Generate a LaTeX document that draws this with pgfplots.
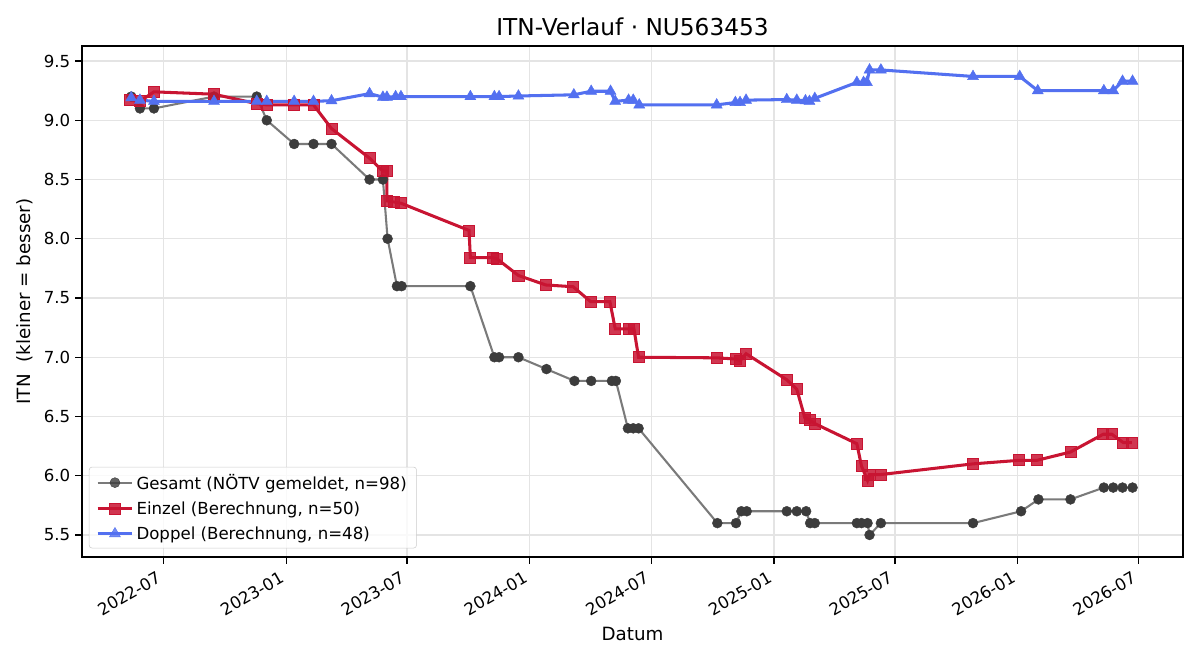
\documentclass[border=0pt]{standalone}
\usepackage{fontspec}
\setmainfont{DejaVu Sans}
\usepackage{pgfplots}
\pgfplotsset{compat=1.18}
\definecolor{gline}{RGB}{122,122,122}
\definecolor{gmark}{RGB}{60,60,60}
\definecolor{rline}{RGB}{200,20,50}
\definecolor{bline}{RGB}{83,112,240}
\definecolor{gridc}{RGB}{228,228,228}
\begin{document}
\begin{tikzpicture}
\useasboundingbox (0,0) rectangle (867.24pt,476.98pt);
\begin{axis}[
  at={(59.26pt,74.44pt)}, anchor=south west,
  scale only axis, width=795.7pt, height=369.3pt,
  xmin=-121.8, xmax=1527.6, ymin=5.314, ymax=9.627,
  xtick={0,184,365,549,731,915,1096,1280,1461},
  xticklabels={2022-07,2023-01,2023-07,2024-01,2024-07,2025-01,2025-07,2026-01,2026-07},
  ytick={5.5,6,6.5,7,7.5,8,8.5,9,9.5},
  yticklabel={\pgfmathprintnumber[fixed,fixed zerofill,precision=1]{\tick}},
  /pgf/number format/assume math mode=true,
  tick label style={font=\fontsize{12}{14}\selectfont},
  xticklabel style={xshift=-4.5pt, yshift=-2pt, rotate=30, anchor=north east, inner sep=2pt},
  tick align=outside, tick pos=left,
  major tick length=5pt,
  every tick/.style={black, line width=0.9pt},
  axis line style={line width=0.9pt},
  grid=major,
  grid style={gridc, line width=0.9pt},
  title={ITN-Verlauf · NU563453},
  title style={at={(0.5,1)}, anchor=base, yshift=1.5pt, font=\fontsize{16.8}{20}\selectfont},
  xlabel={Datum},
  xlabel style={at={(0.5,0)}, anchor=base, yshift=-60pt, font=\fontsize{13.2}{16}\selectfont},
  ylabel={ITN\ \ (kleiner = besser)},
  ylabel style={at={(0,0.5)}, anchor=center, yshift=41.2pt, font=\fontsize{13.2}{16}\selectfont},
  legend cell align=left,
  legend style={at={(0.0063,0.017)}, anchor=south west, draw=black!20, rounded corners=2pt,
    fill=white, fill opacity=0.8, text opacity=1, font=\fontsize{12}{14}\selectfont,
    row sep=3.4pt, inner xsep=5pt, inner ysep=3pt},
  legend image code/.code={\draw[mark repeat=2,mark phase=2] plot coordinates {(0pt,0pt)(12.5pt,0pt)(25pt,0pt)};},
]
\addplot[gline, line width=1.5pt, mark=*, mark size=3.6pt, mark options={gmark, fill=gmark, line width=0.3pt}] coordinates {
(-48,9.20) (-35,9.10) (-14,9.10) (76,9.20) (140,9.20) (155,9.00) (196,8.80) (225,8.80) (252,8.80)
(309,8.50) (329,8.50) (336,8.00) (350,7.60) (357,7.60) (460,7.60) (496,7.00) (503,7.00) (532,7.00)
(574,6.90) (616,6.80) (641,6.80) (672,6.80) (678,6.80) (696,6.40) (704,6.40) (712,6.40)
(830,5.60) (858,5.60) (866,5.70) (874,5.70) (934,5.70) (949,5.70) (963,5.70) (969,5.60) (976,5.60)
(1039,5.60) (1046,5.60) (1055,5.60) (1058,5.50) (1075,5.60) (1213,5.60) (1285,5.70) (1311,5.80)
(1359,5.80) (1409,5.90) (1423,5.90) (1437,5.90) (1452,5.90)
};
\addlegendentry{Gesamt (NÖTV gemeldet, n=98)}
\addplot[rline, line width=2.2pt, mark=square*, mark size=4pt, mark options={rline, fill=rline, fill opacity=0.85, line width=0.6pt}] coordinates {
(-50,9.17) (-35,9.16) (-14,9.24) (76,9.22) (140,9.14) (155,9.13) (196,9.13) (225,9.13) (252,8.93)
(309,8.68) (329,8.57) (335,8.57) (335,8.32) (346,8.31) (356,8.30) (458,8.07) (460,7.84) (494,7.84)
(500,7.83) (532,7.69) (573,7.61) (614,7.595) (640,7.47) (669,7.47) (677,7.24) (697,7.24) (705,7.24)
(712,7.00) (829,6.995) (858,6.985) (864,6.97) (873,7.03) (934,6.81) (949,6.73) (961,6.49) (968,6.47)
(976,6.44) (1039,6.27) (1046,6.08) (1055,5.96) (1058,6.01) (1075,6.01) (1213,6.10) (1282,6.13)
(1309,6.13) (1359,6.20) (1408,6.35) (1421,6.35) (1438,6.28) (1451,6.28)
};
\addlegendentry{Einzel (Berechnung, n=50)}
\addplot[bline, line width=2.2pt, mark=triangle*, mark size=4.6pt, mark options={bline, fill=bline, line width=0.3pt}] coordinates {
(-48,9.19) (-35,9.17) (-14,9.16) (76,9.16) (140,9.16) (155,9.16) (196,9.16) (225,9.16) (252,9.165)
(309,9.225) (329,9.195) (335,9.195) (348,9.20) (356,9.20) (460,9.20) (496,9.20) (503,9.20) (532,9.205)
(615,9.215) (641,9.245) (670,9.245) (677,9.16) (697,9.17) (704,9.17) (713,9.13) (829,9.13) (857,9.15)
(864,9.15) (873,9.17) (934,9.175) (949,9.17) (962,9.165) (968,9.16) (976,9.185) (1039,9.32) (1049,9.32)
(1054,9.32) (1058,9.425) (1075,9.425) (1213,9.37) (1283,9.37) (1310,9.25) (1409,9.25) (1423,9.25)
(1437,9.33) (1452,9.33)
};
\addlegendentry{Doppel (Berechnung, n=48)}
\end{axis}
\end{tikzpicture}
\end{document}
